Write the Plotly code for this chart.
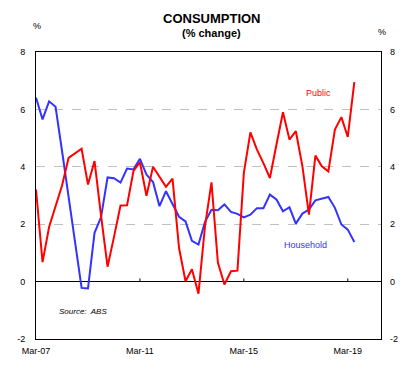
import plotly.graph_objects as go

# Quarterly dates Mar-07 .. Jun-19
quarters = [f"{y}-{m:02d}-01" for y in range(2007, 2020) for m in (3, 6, 9, 12)][:50]

household = [6.41, 5.65, 6.28, 6.09, 4.55, 2.95, 1.35, -0.22, -0.24, 1.70,
             2.25, 3.63, 3.60, 3.45, 3.94, 3.91, 4.28, 3.73, 3.47, 2.63,
             3.15, 2.69, 2.26, 2.10, 1.42, 1.29, 2.08, 2.50, 2.49, 2.69,
             2.43, 2.36, 2.24, 2.33, 2.56, 2.56, 3.03, 2.86, 2.45, 2.59,
             2.02, 2.37, 2.51, 2.83, 2.88, 2.95, 2.57, 1.99, 1.81, 1.38]

public = [3.21, 0.68, 1.90, 2.65, 3.35, 4.31, 4.46, 4.63, 3.38, 4.20,
          2.28, 0.52, 1.55, 2.65, 2.66, 3.86, 4.16, 2.99, 4.00, 3.67,
          3.30, 3.59, 1.17, 0.01, 0.43, -0.42, 1.93, 3.46, 0.66, -0.10,
          0.36, 0.38, 3.79, 5.20, 4.60, 4.13, 3.61, 4.77, 5.90, 4.95,
          5.24, 4.02, 2.33, 4.39, 4.02, 3.84, 5.30, 5.73, 5.04, 6.95]

x_tick_vals = ["2007-03-01", "2011-03-01", "2015-03-01", "2019-03-01"]
x_tick_text = ["Mar-07", "Mar-11", "Mar-15", "Mar-19"]
y_tick_vals = [-2, 0, 2, 4, 6, 8]
y_tick_text = ["-2", "0", "2", "4", "6", "8"]

FONT = "Liberation Sans, Arial, sans-serif"
RED = "#ff0000"
BLUE = "#3333ff"

fig = go.Figure()
fig.add_trace(go.Scatter(x=quarters, y=household, mode="lines",
                         line=dict(color=BLUE, width=2), yaxis="y", name="Household"))
fig.add_trace(go.Scatter(x=quarters, y=public, mode="lines",
                         line=dict(color=RED, width=2), yaxis="y2", name="Public"))

yaxis_common = dict(range=[-2, 8], tickvals=y_tick_vals, ticktext=y_tick_text,
                    tickfont=dict(family=FONT, size=9, color="#000"),
                    ticks="", ticklabelstandoff=8, fixedrange=True)

fig.update_layout(
    width=418, height=373,
    margin=dict(l=36, r=37, t=52, b=34),
    paper_bgcolor="white", plot_bgcolor="white",
    showlegend=False,
    font=dict(family=FONT, color="#000"),
    xaxis=dict(type="date", range=["2007-03-01", "2020-06-10"],
               tickvals=x_tick_vals, ticktext=x_tick_text,
               tickfont=dict(family=FONT, size=9, color="#000"),
               ticks="", ticklabelstandoff=3, fixedrange=True,
               showgrid=False, zeroline=False,
               showline=True, linecolor="#000", linewidth=1, mirror=True),
    yaxis=dict(**yaxis_common, side="left",
               showgrid=True, gridcolor="#c0c0c0", griddash="dash", gridwidth=1,
               zeroline=True, zerolinecolor="#000", zerolinewidth=1,
               showline=True, linecolor="#000", linewidth=1, mirror=True),
    yaxis2=dict(**yaxis_common, side="right", overlaying="y",
                showgrid=False, zeroline=False, showline=False),
)

# small tick marks pointing up from the zero line
for tv in x_tick_vals[1:]:
    fig.add_shape(type="line", xref="x", yref="y", x0=tv, x1=tv, y0=0, y1=0.11,
                  line=dict(color="#000", width=1))

ann = [
    dict(text="<b>CONSUMPTION</b>", x=0.51, y=1.115, size=13),
    dict(text="<b>(% change)</b>", x=0.51, y=1.066, size=11),
    dict(text="%", x=0.004, y=1.089, size=9),
    dict(text="%", x=1.003, y=1.07, size=9),
]
for a in ann:
    fig.add_annotation(xref="paper", yref="paper", x=a["x"], y=a["y"], text=a["text"],
                       showarrow=False, xanchor="center", yanchor="middle",
                       font=dict(family=FONT, size=a["size"], color="#000"))

fig.add_annotation(xref="x", yref="y", x="2018-01-15", y=6.57, text="Public",
                   showarrow=False, xanchor="center", yanchor="middle",
                   font=dict(family=FONT, size=9, color=RED))
fig.add_annotation(xref="x", yref="y", x="2017-07-10", y=1.27, text="Household",
                   showarrow=False, xanchor="center", yanchor="middle",
                   font=dict(family=FONT, size=9, color=BLUE))
fig.add_annotation(xref="x", yref="y", x="2008-12-15", y=-1.05, text="<i>Source:  ABS</i>",
                   showarrow=False, xanchor="center", yanchor="middle",
                   font=dict(family=FONT, size=8, color="#000"))

fig.write_html("out.html", config={"displayModeBar": False},
               post_script="document.body.style.margin='0';document.body.style.padding='0';")
